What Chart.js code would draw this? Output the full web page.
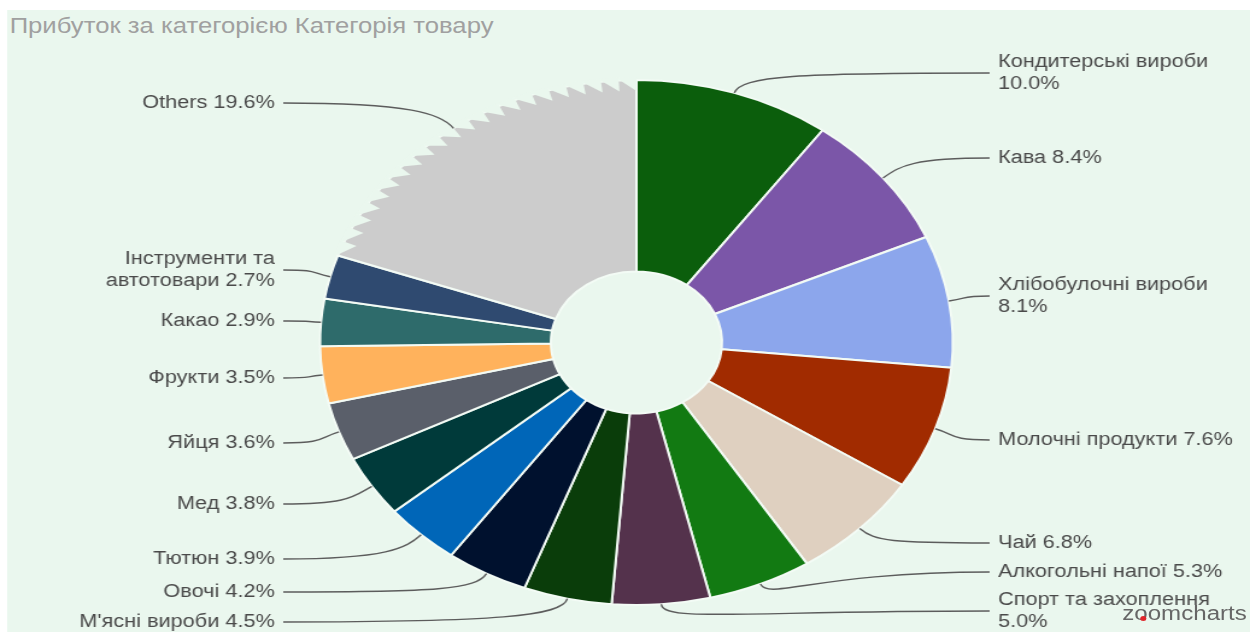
<!DOCTYPE html>
<html lang="uk">
<head>
<meta charset="utf-8">
<title>Прибуток за категорією Категорія товару</title>
<script src="https://cdn.jsdelivr.net/npm/chart.js@4.4.1/dist/chart.umd.min.js"></script>
<style>
  html, body { margin: 0; padding: 0; background: #ffffff; overflow: hidden; }
  /* the whole widget is rendered at its native width and stretched horizontally */
  #stage { position: absolute; left: 0; top: 0; width: 1037px; height: 632px;
           transform: scaleX(1.2054); transform-origin: 0 0; }
  #panel { position: absolute; left: 6px; top: 10px; right: 0; bottom: 0; background: #eaf7ee; }
  #title { position: absolute; left: 8px; top: 14px; font: 21.3px "Liberation Sans", Arial, sans-serif;
           line-height: 24px; color: #a0a0a0; white-space: nowrap; }
  #chart { position: absolute; left: 0; top: 0; }
  #logo  { position: absolute; left: 931px; top: 602px; font: 20px "Liberation Sans", Arial, sans-serif;
           line-height: 23px; color: #666666; white-space: nowrap; }
  #logo .dot { position: absolute; left: 15px; top: 14px; width: 5px; height: 5px; border-radius: 50%; background: #e0262b; }
</style>
</head>
<body>
<div id="stage">
  <div id="panel"></div>
  <div id="title">Прибуток за категорією Категорія товару</div>
  <canvas id="chart" width="1037" height="632"></canvas>
  <div id="logo">zoomcharts<span class="dot"></span></div>
</div>
<script>
// Product categories, clockwise from 12 o'clock
const categories = [
  'Кондитерські вироби', 'Кава', 'Хлібобулочні вироби', 'Молочні продукти', 'Чай',
  'Алкогольні напої', 'Спорт та захоплення', "М'ясні вироби", 'Овочі', 'Тютюн',
  'Мед', 'Яйця', 'Фрукти', 'Какао', 'Інструменти та автотовари', 'Others'
];
// Share of total profit, %
const profitShare = [10.0, 8.4, 8.1, 7.6, 6.8, 5.3, 5.0, 4.5, 4.2, 3.9, 3.8, 3.6, 3.5, 2.9, 2.7, 19.6];
const sliceColors = [
  '#0b5e0c', '#7b56a8', '#8ca6ec', '#a12b00', '#dfd0c0',
  '#127a12', '#54324c', '#0a3d0a', '#00112e', '#0066b8',
  '#003a3a', '#5a5f6a', '#ffb25c', '#2e6b6b', '#2f4a70', '#cccccc'
];

// Layout
const PANEL_BG = '#eaf7ee';
const OUTER_R = 262.5;
const INNER_R = 78;
const TEETH = 22;
const TOOTH_DEPTH = 11;
const LABEL_FONT = '18px "Liberation Sans", Arial, sans-serif';
const LABEL_COLOR = '#4a4a4a';
const LEADER_COLOR = '#5c5c5c';
const LINE_H = 22;
const MAX_LABEL_W = 205;
const LEADER_REACH = 293;
const TEXT_REACH = 300;
const BEND = 18;
// vertical row of each outside label (canvas px), same order as categories
const labelRowY = [73, 158, 296, 440, 543, 572, 611, 622, 592, 559, 504, 443, 378, 321, 270, 103];

function wrapText(ctx, text, maxW) {
  const words = text.split(' ');
  const lines = [];
  let cur = '';
  for (const w of words) {
    const test = cur ? cur + ' ' + w : w;
    if (cur && ctx.measureText(test).width > maxW) { lines.push(cur); cur = w; }
    else cur = test;
  }
  if (cur) lines.push(cur);
  return lines;
}

// Saw-tooth outer edge of the aggregated "Others" slice
const sawEdge = {
  id: 'sawEdge',
  afterDatasetsDraw(chart) {
    const arc = chart.getDatasetMeta(0).data[categories.indexOf('Others')];
    const { x, y, startAngle, endAngle, outerRadius } =
      arc.getProps(['x', 'y', 'startAngle', 'endAngle', 'outerRadius'], true);
    const ctx = chart.ctx;
    const span = (endAngle - startAngle) / TEETH;
    ctx.save();
    ctx.fillStyle = PANEL_BG;
    for (let k = 0; k < TEETH; k++) {
      const a0 = startAngle + span * k, a1 = a0 + span;
      ctx.beginPath();
      ctx.moveTo(x + Math.cos(a0) * (outerRadius + 1), y + Math.sin(a0) * (outerRadius + 1));
      ctx.lineTo(x + Math.cos(a1) * (outerRadius - TOOTH_DEPTH), y + Math.sin(a1) * (outerRadius - TOOTH_DEPTH));
      ctx.lineTo(x + Math.cos(a1) * (outerRadius + 3), y + Math.sin(a1) * (outerRadius + 3));
      ctx.arc(x, y, outerRadius + 3, a1, a0, true);
      ctx.closePath();
      ctx.fill();
    }
    ctx.restore();
  }
};

// Outside labels with curved leader lines
const outsideLabels = {
  id: 'outsideLabels',
  afterDraw(chart) {
    const ctx = chart.ctx;
    const meta = chart.getDatasetMeta(0);
    ctx.save();
    ctx.font = LABEL_FONT;
    meta.data.forEach((arc, i) => {
      const { x, y, startAngle, endAngle, outerRadius } =
        arc.getProps(['x', 'y', 'startAngle', 'endAngle', 'outerRadius'], true);
      const mid = (startAngle + endAngle) / 2;
      const cos = Math.cos(mid), sin = Math.sin(mid);
      const side = cos >= 0 ? 1 : -1;
      const ax = x + cos * outerRadius, ay = y + sin * outerRadius;
      const ly = labelRowY[i];
      const lx = x + side * LEADER_REACH;
      ctx.strokeStyle = LEADER_COLOR;
      ctx.lineWidth = 1.4;
      ctx.beginPath();
      ctx.moveTo(ax, ay);
      ctx.bezierCurveTo(ax + cos * BEND, ay + sin * BEND,
                        lx - side * 0.75 * Math.abs(lx - ax), ly, lx, ly);
      ctx.stroke();

      const lines = wrapText(ctx, `${categories[i]} ${profitShare[i].toFixed(1)}%`, MAX_LABEL_W);
      ctx.fillStyle = LABEL_COLOR;
      ctx.textAlign = side > 0 ? 'left' : 'right';
      ctx.textBaseline = 'middle';
      const tx = x + side * TEXT_REACH;
      const top = ly - (lines.length - 1) * LINE_H / 2;
      lines.forEach((ln, j) => ctx.fillText(ln, tx, top + j * LINE_H));
    });
    ctx.restore();
  }
};

new Chart(document.getElementById('chart'), {
  type: 'doughnut',
  data: {
    labels: categories,
    datasets: [{
      data: profitShare,
      backgroundColor: sliceColors,
      borderColor: '#f3fbf5',
      borderWidth: 2
    }]
  },
  options: {
    responsive: false,
    animation: false,
    events: [],
    devicePixelRatio: 1,
    radius: OUTER_R,
    cutout: INNER_R,
    layout: { padding: { left: 19, top: 53, right: 0, bottom: 0 } },
    plugins: { legend: { display: false }, tooltip: { enabled: false } }
  },
  plugins: [sawEdge, outsideLabels]
});
</script>
</body>
</html>
